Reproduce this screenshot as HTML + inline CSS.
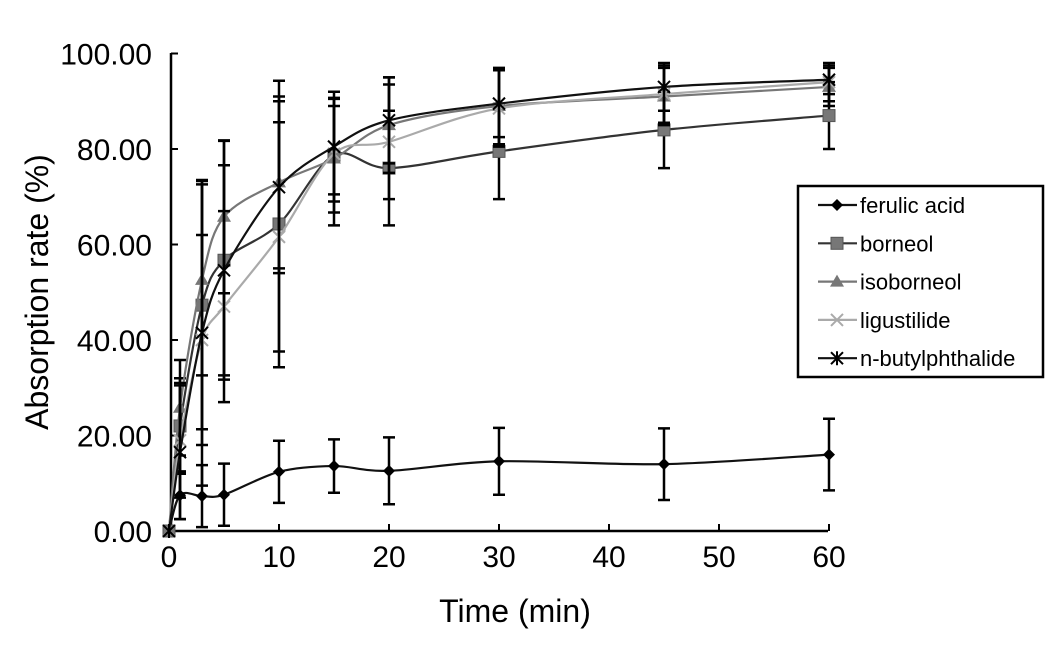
<!DOCTYPE html>
<html><head><meta charset="utf-8"><style>
body{margin:0;background:#fff}
svg text{font-family:"Liberation Sans",sans-serif}
</style></head><body>
<svg id="c" width="1063" height="650"></svg>
<script>
const times=[0,1,3,5,10,15,20,30,45,60];
const ferulic=[0,7.5,7.3,7.6,12.4,13.6,12.6,14.6,14.0,16.0];
const ferulicErr=[0,5,6.5,6.5,6.5,5.6,7,7,7.5,7.5];
const borneol=[0,22,47.3,56.7,64.3,78.7,76,79.5,84,87];
const borneolErr=[0,10,26,25,30,12,12,10,8,7];
const isoborneol=[0,25.8,52.6,65.8,73,78,85,89,91,93];
const isoborneolErr=[0,10,20,16,18,14,10,8,6,4];
const ligustilide=[0,19,40,47,61.6,79,81.5,88.5,91.5,94];
const ligustilideErr=[0,12,22,20,24,10,12,8,6,4];
const nbutyl=[0,16.5,41.5,54.6,72,80.5,86,89.5,93,94.5];
const nbutylErr=[0,14,32,22,18,10,9,7,5,3];
const xTicks=[0,10,20,30,40,50,60];
const yTicks=[0,20,40,60,80,100];
const yTickLabels=["0.00","20.00","40.00","60.00","80.00","100.00"];
const names=["ferulic acid","borneol","isoborneol","ligustilide","n-butylphthalide"];

const NS="http://www.w3.org/2000/svg";
const svg=document.getElementById('c');
const X=t=>169+t*11.0, Y=v=>531-v*4.775;
function mk(tag,attrs,parent){const e=document.createElementNS(NS,tag);for(const k in attrs)e.setAttribute(k,attrs[k]);(parent||svg).appendChild(e);return e;}
function spline(pts){let d=`M${pts[0][0]},${pts[0][1]}`;for(let i=0;i<pts.length-1;i++){const p0=pts[i-1]||pts[i],p1=pts[i],p2=pts[i+1],p3=pts[i+2]||p2;const k=0.16;d+=` C${p1[0]+(p2[0]-p0[0])*k},${p1[1]+(p2[1]-p0[1])*k} ${p2[0]-(p3[0]-p1[0])*k},${p2[1]-(p3[1]-p1[1])*k} ${p2[0]},${p2[1]}`;}return d;}

let a=mk('line',{x1:171,y1:531,x2:828,y2:531,stroke:'#000','stroke-width':2.5});

a=mk('line',{x1:171,y1:53,x2:171,y2:531,stroke:'#000','stroke-width':2.5});

xTicks.forEach(t=>{
  const l=mk('line',{x1:X(t),y1:531,x2:X(t),y2:524,stroke:'#000','stroke-width':2});
  
  const tx=mk('text',{x:X(t),y:567,'font-size':30,'text-anchor':'middle'});tx.textContent=t;
  
});
yTicks.forEach((v,i)=>{
  const l=mk('line',{x1:171,y1:Y(v),x2:178,y2:Y(v),stroke:'#000','stroke-width':2});
  
  const tx=mk('text',{x:152,y:Y(v)+11,'font-size':30,'text-anchor':'end'});tx.textContent=yTickLabels[i];
  
});
let t=mk('text',{x:515,y:622,'font-size':32,'text-anchor':'middle'});t.textContent='Time (min)';

t=mk('text',{x:0,y:0,'font-size':32,'text-anchor':'middle',transform:'translate(48,292) rotate(-90)'});t.textContent='Absorption rate (%)';


const series=[
 {v:ferulic,e:ferulicErr,c:'#111',m:'diamond',mc:'#000'},
 {v:borneol,e:borneolErr,c:'#333',m:'square',mc:'#777'},
 {v:isoborneol,e:isoborneolErr,c:'#777',m:'tri',mc:'#777'},
 {v:ligustilide,e:ligustilideErr,c:'#aaa',m:'x',mc:'#aaa'},
 {v:nbutyl,e:nbutylErr,c:'#111',m:'star',mc:'#000'}];
function marker(type,x,y,col,g){
  if(type==='diamond')mk('path',{d:`M${x},${y-6}L${x+6},${y}L${x},${y+6}L${x-6},${y}Z`,fill:col},g);
  else if(type==='square')mk('rect',{x:x-6,y:y-6,width:12,height:12,fill:col,stroke:'#555'},g);
  else if(type==='tri')mk('path',{d:`M${x},${y-7}L${x+7},${y+5}L${x-7},${y+5}Z`,fill:col},g);
  else if(type==='x')mk('path',{d:`M${x-6},${y-6}L${x+6},${y+6}M${x+6},${y-6}L${x-6},${y+6}`,stroke:col,'stroke-width':2},g);
  else mk('path',{d:`M${x-6},${y-6}L${x+6},${y+6}M${x+6},${y-6}L${x-6},${y+6}M${x},${y-7}L${x},${y+7}`,stroke:col,'stroke-width':2},g);
}
series.forEach((s,si)=>{
  const g=mk('g',{});
  
  
  s.v.forEach((v,i)=>{if(s.e[i]>0){
    const x=X(times[i]),y1=Y(v+s.e[i]),y2=Y(Math.max(0,v-s.e[i]));
    const eb=mk('path',{d:`M${x},${y1}L${x},${y2}M${x-6},${y1}L${x+6},${y1}M${x-6},${y2}L${x+6},${y2}`,stroke:'#000','stroke-width':2.5,fill:'none'},g);
    }});
  const pts=s.v.map((v,i)=>[X(times[i]),Y(v)]);
  const p=mk('path',{d:spline(pts),fill:'none',stroke:s.c,'stroke-width':2.2},g);
  
  pts.forEach(q=>marker(s.m,q[0],q[1],s.mc,g));
});
const lg=mk('g',{});

mk('rect',{x:798,y:186,width:245,height:191,fill:'#fff',stroke:'#000','stroke-width':2.5},lg);
names.forEach((n,i)=>{
  const y=205+i*38.3,s=series[i];
  const e=mk('g',{},lg);
  
  mk('line',{x1:818,y1:y,x2:857,y2:y,stroke:s.c,'stroke-width':2.2},e);
  marker(s.m,837,y,s.mc,e);
  const tx=mk('text',{x:860,y:y+8,'font-size':22},e);tx.textContent=n;
});
</script>
</body></html>
